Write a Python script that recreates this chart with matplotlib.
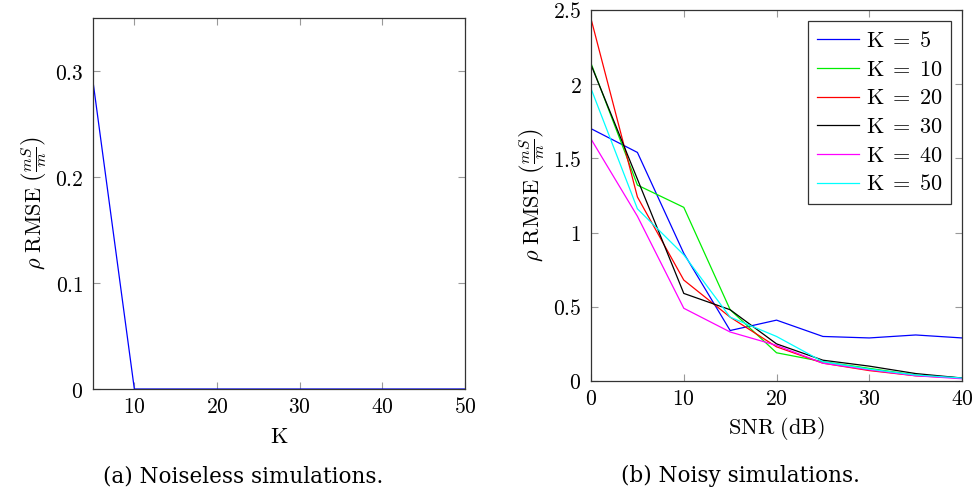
import matplotlib
matplotlib.use("Agg")
import matplotlib.pyplot as plt
from matplotlib.ticker import FuncFormatter

plt.rcParams['mathtext.fontset'] = 'cm'
plt.rcParams['font.family'] = ['DejaVu Serif']

# noiseless: RMSE vs K
k_vals = [5, 10, 20, 30, 40, 50]
rmse_noiseless = [0.29, 0.0, 0.0, 0.0, 0.0, 0.0]

# noisy: RMSE vs SNR for each K
snr = [0, 5, 10, 15, 20, 25, 30, 35, 40]
k_labels = ['5', '10', '20', '30', '40', '50']
colors = ['blue', '#00ee00', 'red', 'black', '#ff00ff', 'cyan']
rmse_k5 = [1.70, 1.54, 0.86, 0.34, 0.41, 0.30, 0.29, 0.31, 0.29]
rmse_k10 = [2.14, 1.32, 1.17, 0.48, 0.19, 0.13, 0.085, 0.04, 0.02]
rmse_k20 = [2.44, 1.24, 0.68, 0.43, 0.23, 0.12, 0.07, 0.035, 0.02]
rmse_k30 = [2.13, 1.36, 0.59, 0.48, 0.25, 0.14, 0.10, 0.05, 0.02]
rmse_k40 = [1.63, 1.11, 0.49, 0.33, 0.24, 0.12, 0.075, 0.035, 0.015]
rmse_k50 = [1.97, 1.16, 0.85, 0.43, 0.30, 0.13, 0.08, 0.04, 0.02]
noisy = [rmse_k5, rmse_k10, rmse_k20, rmse_k30, rmse_k40, rmse_k50]

fig = plt.figure(figsize=(9.75, 4.96), dpi=100)
ax1 = fig.add_axes([0.0954, 0.2157, 0.3815, 0.748])
ax2 = fig.add_axes([0.6062, 0.2319, 0.3805, 0.748])

fmt = FuncFormatter(lambda v, p: '$%g$' % round(v, 3))
ylab = r'$\rho\ \mathrm{RMSE}\ \left(\frac{mS}{m}\right)$'

def style(ax):
    ax.tick_params(direction='in', length=5, color='#999999', width=0.8,
                   top=True, right=True, labelsize=15.5)
    ax.tick_params(axis='x', pad=5)
    ax.tick_params(axis='y', pad=7)
    for s in ax.spines.values():
        s.set_color('#333333')
        s.set_linewidth(0.9)
    ax.xaxis.set_major_formatter(fmt)
    ax.yaxis.set_major_formatter(fmt)

ax1.plot(k_vals, rmse_noiseless, color='blue', lw=0.9)
ax1.set_xlim(5, 50)
ax1.set_ylim(0, 0.35)
ax1.set_xticks([10, 20, 30, 40, 50])
ax1.set_yticks([0, 0.1, 0.2, 0.3])
style(ax1)
ax1.set_xlabel(r'$\mathrm{K}$', fontsize=16, labelpad=6)
ax1.set_ylabel(ylab, fontsize=16, labelpad=4)

for vals, k, c in zip(noisy, k_labels, colors):
    ax2.plot(snr, vals, color=c, lw=0.9, label=r'$\mathrm{K}\;=\;%s$' % k)
ax2.set_xlim(0, 40)
ax2.set_ylim(0, 2.5)
ax2.set_xticks([0, 10, 20, 30, 40])
ax2.set_yticks([0, 0.5, 1, 1.5, 2, 2.5])
style(ax2)
ax2.set_xlabel(r'$\mathrm{SNR\ (dB)}$', fontsize=16, labelpad=4)
ax2.set_ylabel(ylab, fontsize=16, labelpad=4)
leg = ax2.legend(loc='upper right', fontsize=16, fancybox=False, framealpha=1,
                 edgecolor='#333333', handlelength=1.9, handletextpad=0.3,
                 labelspacing=0.3, borderpad=0.4, borderaxespad=0.5)
leg.get_frame().set_linewidth(0.9)

fig.text(0.249, 0.040, '(a) Noiseless simulations.', ha='center', va='center',
         fontsize=15.5, family='DejaVu Serif')
fig.text(0.759, 0.040, '(b) Noisy simulations.', ha='center', va='center',
         fontsize=15.5, family='DejaVu Serif')

fig.savefig('out.png', dpi=100)
